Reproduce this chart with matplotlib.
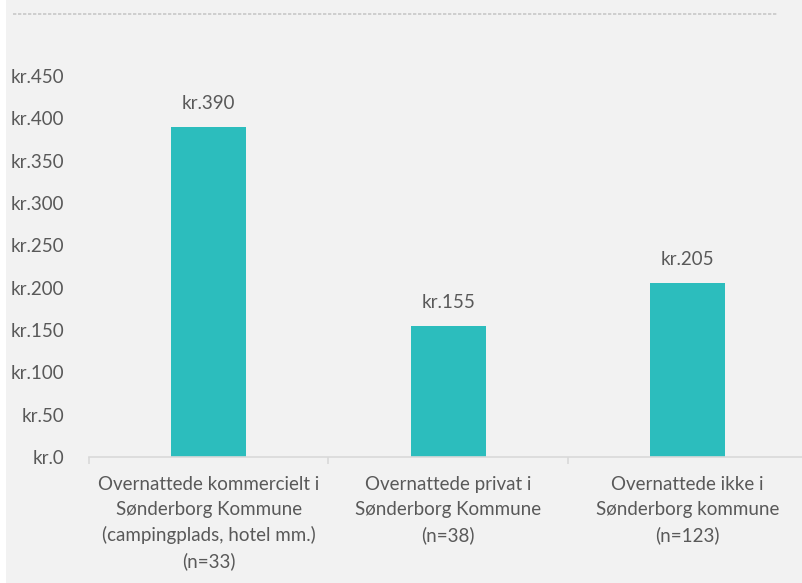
import matplotlib.pyplot as plt
from matplotlib.patches import Rectangle
from matplotlib.lines import Line2D

categories = [
    'Overnattede kommercielt i\nSønderborg Kommune\n(campingplads, hotel mm.)\n(n=33)',
    'Overnattede privat i\nSønderborg Kommune\n(n=38)',
    'Overnattede ikke i\nSønderborg kommune\n(n=123)',
]
values = [390, 155, 205]
yticks = [0, 50, 100, 150, 200, 250, 300, 350, 400, 450]

plt.rcParams['font.family'] = ['Lato', 'DejaVu Sans']
txt_color = '#595959'
bar_color = '#2CBDBD'

W, H = 803, 583
fig = plt.figure(figsize=(W / 100, H / 100), dpi=100, facecolor='#F2F2F2')
# thin white strip on the left edge
fig.patches.append(Rectangle((0, 0), 6 / W, 1, transform=fig.transFigure,
                             facecolor='white', edgecolor='none'))
# dashed separator line at the top
fig.lines.append(Line2D([13 / W, 777 / W], [1 - 14 / H, 1 - 14 / H],
                        transform=fig.transFigure, color='#C8C8C8',
                        lw=1.2, linestyle=(0, (2, 1))))

# plot area: x 89..807 px, y 76..457 px
ax = fig.add_axes([89 / W, (H - 457) / H, 718.5 / W, 381 / H])
ax.set_facecolor('none')

x = range(len(values))
ax.bar(x, values, width=0.313, color=bar_color, zorder=2)
for i, v in enumerate(values):
    ax.annotate(f'kr.{v}', (i, v), xytext=(0, 17), textcoords='offset points',
                ha='center', va='center', fontsize=13.5, color=txt_color)

ax.set_xlim(-0.5, 2.5)
ax.set_ylim(0, 450)
ax.set_yticks(yticks)
ax.set_yticklabels([f'kr.{t}' for t in yticks])
ax.set_xticks(list(x))
ax.set_xticklabels(categories, linespacing=1.55)
ax.set_xticks([-0.5, 0.5, 1.5, 2.5], minor=True)

ax.tick_params(axis='y', length=0, pad=18, labelsize=13.5, labelcolor=txt_color)
ax.tick_params(axis='x', which='major', length=0, pad=14, labelsize=13.5, labelcolor=txt_color)
ax.tick_params(axis='x', which='minor', length=5, color='#D9D9D9', width=1.2)

for s in ['top', 'right', 'left']:
    ax.spines[s].set_visible(False)
ax.spines['bottom'].set_color('#D9D9D9')
ax.spines['bottom'].set_linewidth(1.2)

fig.savefig('out.png', dpi=100, facecolor=fig.get_facecolor())
